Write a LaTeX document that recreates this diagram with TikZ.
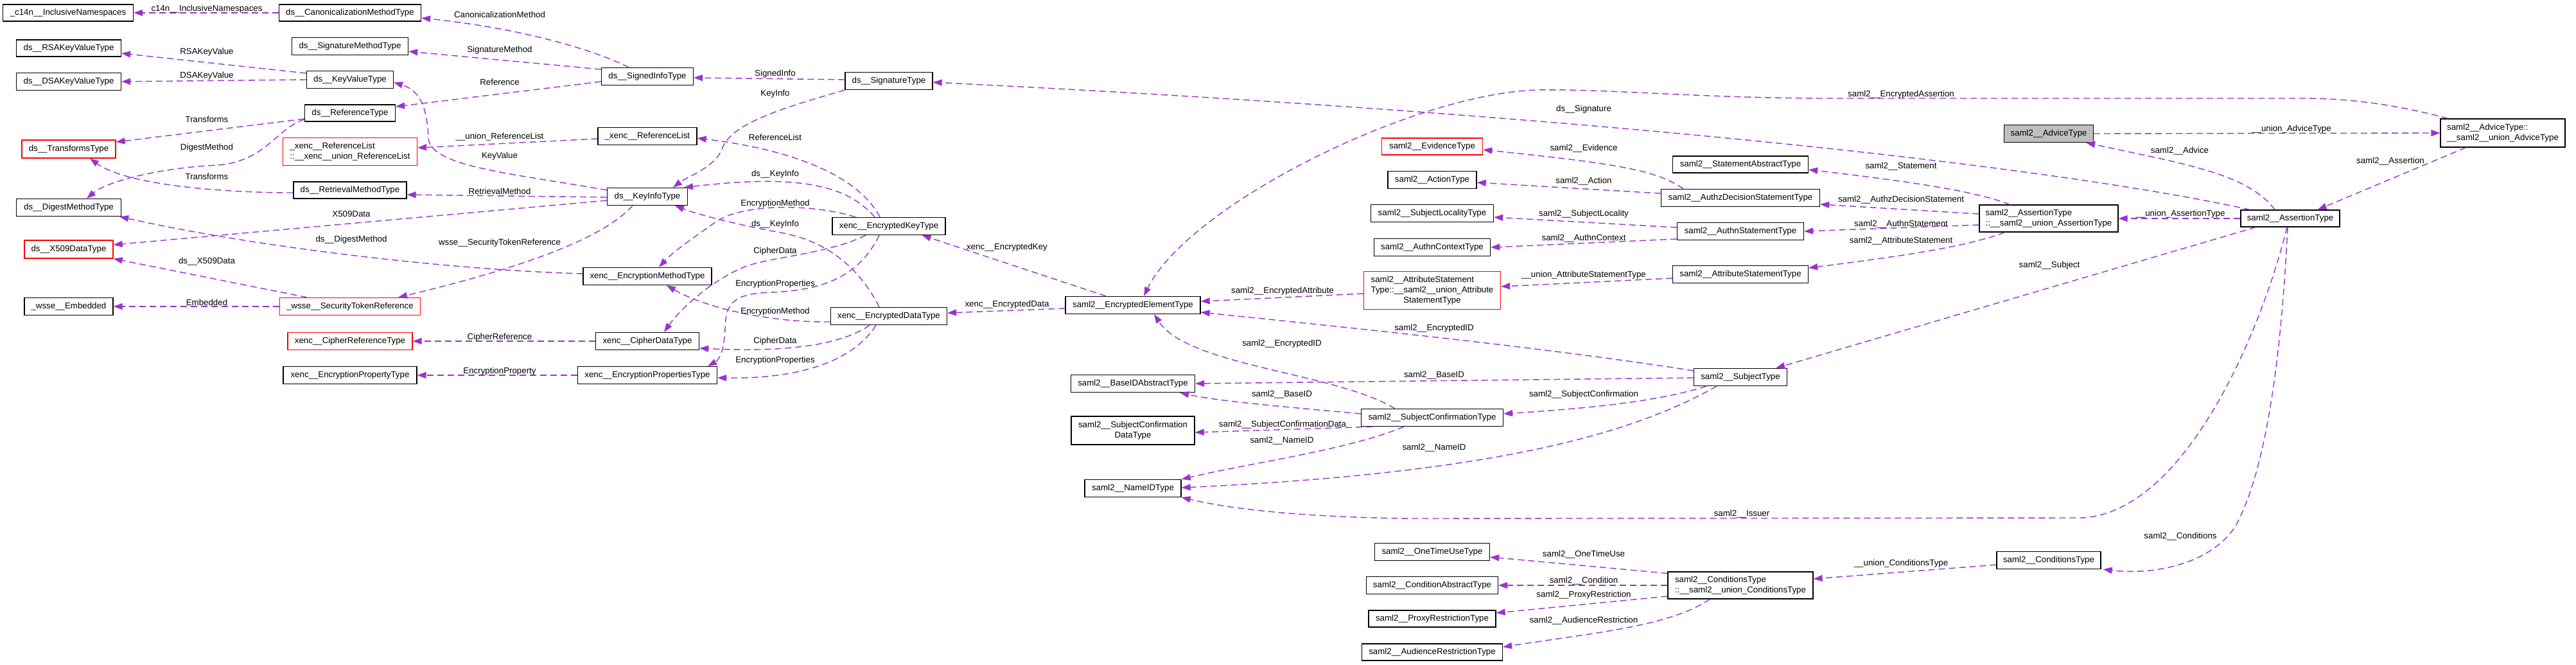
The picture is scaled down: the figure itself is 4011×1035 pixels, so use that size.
\documentclass[tikz,border=0pt]{standalone}
\usepackage{fontspec}
\setmainfont{Liberation Sans}
\usetikzlibrary{arrows.meta,calc}
\definecolor{purp}{HTML}{9A32CD}
\newcommand\bx[7]{\node[#1,minimum width=#5pt,minimum height=#6pt] (#2) at (#3,#4) {#7};}
\newcommand\lb[4]{\node[lbl] (#1) at (#2,#3) {#4};}
\begin{document}
\begin{tikzpicture}[x=1pt,y=-1pt,font=\fontsize{13.3}{16}\selectfont,
  box/.style={draw=black,line width=1.3pt,fill=white,rectangle,inner sep=0pt,align=center},
  redbox/.style={box,draw=red},
  greybox/.style={box,fill=gray!50},
  lbox/.style={box,align=left},
  edge/.style={draw=purp,line width=1.4pt,dash pattern=on 10pt off 6pt,-{Triangle[length=14pt,width=10pt]}},
  lbl/.style={inner sep=0pt,text=black}]
\fill[white] (0,0) rectangle (4011,1035);
\useasboundingbox (0,0) rectangle (4011,1035);
% nodes
\bx{box}{c14n}{106}{20}{203}{26}{\_c14n\_\_InclusiveNamespaces}
\bx{box}{canon}{545}{20}{221}{26}{ds\_\_CanonicalizationMethodType}
\bx{box}{rsa}{107}{75}{163}{26}{ds\_\_RSAKeyValueType}
\bx{box}{sigmeth}{545}{72}{181}{27}{ds\_\_SignatureMethodType}
\bx{box}{dsa}{107}{127}{163}{27}{ds\_\_DSAKeyValueType}
\bx{box}{keyval}{545}{124}{135}{27}{ds\_\_KeyValueType}
\bx{box}{reftype}{545}{176}{141}{26}{ds\_\_ReferenceType}
\bx{redbox}{transforms}{107}{232}{146}{28}{ds\_\_TransformsType}
\bx{redbox,align=left}{xrefunion}{545}{236}{209}{43}{\_xenc\_\_ReferenceList\\::\_\_xenc\_\_union\_ReferenceList}
\bx{box}{retrieval}{545}{296}{176}{26}{ds\_\_RetrievalMethodType}
\bx{box}{digest}{107}{323}{163}{27}{ds\_\_DigestMethodType}
\bx{redbox}{x509}{107}{388}{138}{28}{ds\_\_X509DataType}
\bx{box}{embedded}{107}{477}{138}{27}{\_wsse\_\_Embedded}
\bx{redbox}{sectok}{545}{477}{219}{27}{\_wsse\_\_SecurityTokenReference}
\bx{redbox}{cipherref}{545}{531}{194}{27}{xenc\_\_CipherReferenceType}
\bx{box}{encprop}{545}{584}{208}{27}{xenc\_\_EncryptionPropertyType}
\bx{box}{signedinfo}{1008}{119}{143}{27}{ds\_\_SignedInfoType}
\bx{box}{xreflist}{1008}{212}{154}{27}{\_xenc\_\_ReferenceList}
\bx{box}{keyinfo}{1008}{306}{125}{27}{ds\_\_KeyInfoType}
\bx{box}{encmeth}{1008}{430}{200}{27}{xenc\_\_EncryptionMethodType}
\bx{box}{cipherdata}{1008}{531}{161}{27}{xenc\_\_CipherDataType}
\bx{box}{encprops}{1008}{584}{217}{27}{xenc\_\_EncryptionPropertiesType}
\bx{box}{sigtype}{1384}{126}{136}{27}{ds\_\_SignatureType}
\bx{box}{enckey}{1384}{352}{176}{27}{xenc\_\_EncryptedKeyType}
\bx{box}{encdata}{1384}{492}{181}{27}{xenc\_\_EncryptedDataType}
\bx{box}{ee}{1764}{475}{210}{27}{saml2\_\_EncryptedElementType}
\bx{box}{baseid}{1764}{597}{193}{27}{saml2\_\_BaseIDAbstractType}
\bx{box}{scdata}{1764}{670}{192}{44}{saml2\_\_SubjectConfirmation\\DataType}
\bx{box}{nameid}{1764}{760}{150}{27}{saml2\_\_NameIDType}
\bx{redbox}{evidence}{2230}{228}{157}{26}{saml2\_\_EvidenceType}
\bx{box}{action}{2230}{280}{138}{27}{saml2\_\_ActionType}
\bx{box}{subjloc}{2230}{332}{191}{27}{saml2\_\_SubjectLocalityType}
\bx{box}{authnctx}{2230}{385}{181}{27}{saml2\_\_AuthnContextType}
\bx{redbox}{attrunion}{2230}{452}{213}{59}{\begin{tabular}{@{}l@{}}saml2\_\_AttributeStatement\\Type::\_\_saml2\_\_union\_Attribute\\\multicolumn{1}{@{}c@{}}{StatementType}\end{tabular}}
\bx{box}{subjconf}{2230}{650}{221}{27}{saml2\_\_SubjectConfirmationType}
\bx{box}{onetime}{2230}{859}{179}{27}{saml2\_\_OneTimeUseType}
\bx{box}{condabs}{2230}{911}{205}{27}{saml2\_\_ConditionAbstractType}
\bx{box}{proxy}{2230}{963}{198}{26}{saml2\_\_ProxyRestrictionType}
\bx{box}{audience}{2230}{1015}{219}{26}{saml2\_\_AudienceRestrictionType}
\bx{box}{stmtabs}{2710}{256}{211}{26}{saml2\_\_StatementAbstractType}
\bx{box}{authz}{2710}{308}{247}{27}{saml2\_\_AuthzDecisionStatementType}
\bx{box}{authn}{2710}{360}{197}{27}{saml2\_\_AuthnStatementType}
\bx{box}{attrstmt}{2710}{427}{211}{27}{saml2\_\_AttributeStatementType}
\bx{box}{subject}{2710}{587}{145}{27}{saml2\_\_SubjectType}
\bx{lbox}{condunion}{2710}{911}{226}{42}{saml2\_\_ConditionsType\\::\_\_saml2\_\_union\_ConditionsType}
\bx{greybox}{advice}{3190}{208}{139}{27}{saml2\_\_AdviceType}
\bx{lbox}{aunion}{3190}{340}{216}{42}{saml2\_\_AssertionType\\::\_\_saml2\_\_union\_AssertionType}
\bx{box}{conditions}{3190}{872}{162}{27}{saml2\_\_ConditionsType}
\bx{box}{assertion}{3566}{340}{154}{26}{saml2\_\_AssertionType}
\bx{lbox}{adviceunion}{3897}{207}{194}{44}{saml2\_\_AdviceType::\\\_\_saml2\_\_union\_AdviceType}
% edges
\draw[edge] (canon.west) -- (c14n.east);
\draw[edge] ($(signedinfo.north)+(-29,0)$) .. controls (930,80) and (820,45) .. ($(canon.east)+(0,8)$);
\draw[edge] ($(signedinfo.west)+(0,-11)$) -- ($(sigmeth.east)+(0,8)$);
\draw[edge] ($(signedinfo.west)+(0,8)$) -- ($(reftype.east)+(0,-10)$);
\draw[edge] ($(keyval.west)+(0,-10)$) -- ($(rsa.east)+(0,8)$);
\draw[edge] (keyval.west) -- (dsa.east);
\draw[edge] ($(reftype.west)+(0,9)$) -- ($(transforms.east)+(0,-11)$);
\draw[edge] ($(reftype.west)+(0,10)$) .. controls (430,200) and (415,250) .. (340,257) .. controls (260,260) and (170,280) .. ($(digest.north)+(28,0)$);
\draw[edge] ($(retrieval.west)+(0,4)$) .. controls (360,300) and (200,290) .. ($(transforms.south)+(33,0)$);
\draw[edge] ($(keyinfo.west)+(0,-10)$) .. controls (800,270) and (670,260) .. (667,215) .. controls (665,160) and (650,140) .. ($(keyval.east)+(0,4)$);
\draw[edge] ($(xreflist.west)+(0,4)$) -- ($(xrefunion.east)+(0,-6)$);
\draw[edge] ($(keyinfo.west)+(0,1)$) -- ($(retrieval.east)+(0,7)$);
\draw[edge] ($(keyinfo.west)+(0,6)$) -- ($(x509.east)+(0,-7)$);
\draw[edge] ($(keyinfo.south)+(-23,0)$) .. controls (940,370) and (820,415) .. ($(sectok.north)+(75,0)$);
\draw[edge] ($(encmeth.west)+(0,-4)$) .. controls (700,420) and (400,385) .. ($(digest.south east)+(-3,0)$);
\draw[edge] ($(sectok.north)+(-67,0)$) -- (x509.south east);
\draw[edge] (sectok.west) -- (embedded.east);
\draw[edge] (cipherdata.west) -- (cipherref.east);
\draw[edge] (encprops.west) -- (encprop.east);
\draw[edge] ($(sigtype.west)+(0,-2)$) -- ($(signedinfo.east)+(0,2)$);
\draw[edge] (sigtype.south west) .. controls (1230,165) and (1140,190) .. (1125,230) .. controls (1115,260) and (1070,275) .. ($(keyinfo.north)+(40,0)$);
\draw[edge] ($(enckey.north)+(-14,0)$) .. controls (1340,280) and (1250,235) .. ($(xreflist.east)+(0,3)$);
\draw[edge] ($(enckey.north)+(-22,0)$) .. controls (1320,290) and (1250,270) .. ($(keyinfo.north)+(57,0)$);
\draw[edge] ($(enckey.north)+(-52,0)$) .. controls (1270,318) and (1160,315) .. (1115,345) .. controls (1080,370) and (1050,390) .. ($(encmeth.north)+(18,0)$);
\draw[edge] ($(encdata.north)+(-15,0)$) .. controls (1340,420) and (1290,375) .. (1215,362) .. controls (1150,350) and (1090,335) .. ($(keyinfo.south)+(43,0)$);
\draw[edge] ($(enckey.south)+(-36,0)$) .. controls (1290,395) and (1200,400) .. (1160,415) .. controls (1110,435) and (1060,480) .. ($(cipherdata.north)+(26,0)$);
\draw[edge] ($(enckey.south)+(-15,0)$) .. controls (1340,425) and (1290,452) .. (1200,455) .. controls (1145,457) and (1130,470) .. (1129,510) .. controls (1128,545) and (1120,560) .. ($(encprops.north)+(94,0)$);
\draw[edge] ($(encdata.west)+(0,9)$) .. controls (1200,502) and (1100,480) .. ($(encmeth.south)+(30,0)$);
\draw[edge] ($(encdata.south)+(-30,0)$) .. controls (1320,530) and (1250,550) .. ($(cipherdata.east)+(0,11)$);
\draw[edge] ($(encdata.south)+(-20,0)$) .. controls (1330,560) and (1250,590) .. ($(encprops.east)+(0,4)$);
\draw[edge] ($(ee.north)+(-42,0)$) -- ($(enckey.south east)+(-37,0)$);
\draw[edge] ($(ee.west)+(0,5)$) -- ($(encdata.east)+(0,-5)$);
\draw[edge] ($(adviceunion.north west)+(12,0)$) .. controls (3720,160) and (3650,153) .. (3580,153) -- (2850,153) .. controls (2650,153) and (2500,138) .. (2395,140) .. controls (2200,145) and (1850,320) .. ($(ee.north)+(17,0)$);
\draw[edge] ($(assertion.north west)+(15,0)$) .. controls (3200,260) and (2500,180) .. ($(sigtype.east)+(0,2)$);
\draw[edge] ($(aunion.north west)+(48,0)$) .. controls (3070,295) and (2950,280) .. ($(stmtabs.east)+(0,8)$);
\draw[edge] ($(aunion.west)+(0,-7)$) -- ($(authz.east)+(0,10)$);
\draw[edge] ($(aunion.west)+(0,10)$) -- (authn.east);
\draw[edge] ($(aunion.south west)+(40,0)$) .. controls (3060,385) and (2950,400) .. ($(attrstmt.east)+(0,-10)$);
\draw[edge] (assertion.west) -- (aunion.east);
\draw[edge] ($(authz.north west)+(35,0)$) .. controls (2580,265) and (2520,255) .. ($(evidence.east)+(0,5)$);
\draw[edge] ($(authz.west)+(0,-7)$) -- ($(action.east)+(0,4)$);
\draw[edge] ($(authn.west)+(0,-6)$) -- ($(subjloc.east)+(0,6)$);
\draw[edge] ($(authn.west)+(0,12)$) -- (authnctx.east);
\draw[edge] ($(attrstmt.west)+(0,6)$) -- ($(attrunion.east)+(0,-6)$);
\draw[edge] ($(attrunion.west)+(0,5)$) -- ($(ee.east)+(0,-6)$);
\draw[edge] ($(subject.west)+(0,-10)$) .. controls (2400,540) and (2100,510) .. ($(ee.east)+(0,11)$);
\draw[edge] ($(subjconf.north)+(-58,0)$) .. controls (2080,580) and (1850,570) .. ($(ee.south)+(33,0)$);
\draw[edge] ($(subject.west)+(0,1)$) -- (baseid.east);
\draw[edge] ($(subjconf.west)+(0,-6)$) .. controls (2000,633) and (1900,625) .. ($(baseid.south east)+(-24,0)$);
\draw[edge] ($(subject.south west)+(20,0)$) .. controls (2580,625) and (2480,635) .. ($(subjconf.east)+(0,-6)$);
\draw[edge] ($(subjconf.south west)+(18,0)$) -- ($(scdata.east)+(0,3)$);
\draw[edge] ($(subjconf.south)+(-44,0)$) .. controls (2100,700) and (1950,720) .. (nameid.north east);
\draw[edge] ($(subject.south)+(-37,0)$) .. controls (2550,670) and (2350,735) .. ($(nameid.east)+(0,-1)$);
\draw[edge] ($(assertion.south)+(-5,0)$) .. controls (3520,520) and (3400,800) .. (3240,806) -- (2200,807) .. controls (2100,806) and (1950,800) .. (nameid.south east);
\draw[edge] ($(assertion.south)+(-4,0)$) .. controls (3550,600) and (3520,750) .. (3480,820) .. controls (3440,880) and (3350,895) .. ($(conditions.south east)+(3,0)$);
\draw[edge] ($(assertion.south west)+(24,0)$) -- ($(subject.north east)+(-18,0)$);
\draw[edge] ($(assertion.north)+(-24,0)$) .. controls (3500,270) and (3400,255) .. ($(advice.south east)+(-12,0)$);
\draw[edge] (advice.east) -- (adviceunion.west);
\draw[edge] ($(adviceunion.south west)+(40,0)$) -- ($(assertion.north east)+(-35,0)$);
\draw[edge] ($(conditions.west)+(0,7)$) -- ($(condunion.east)+(0,-10)$);
\draw[edge] ($(condunion.north west)+(0,3)$) -- ($(onetime.east)+(0,8)$);
\draw[edge] (condunion.west) -- (condabs.east);
\draw[edge] ($(condunion.west)+(0,17)$) -- ($(proxy.east)+(0,-9)$);
\draw[edge] ($(condunion.south west)+(66,0)$) .. controls (2600,975) and (2480,985) .. ($(audience.east)+(0,-8)$);
% labels
\lb{l1}{322}{14}{c14n\_\_InclusiveNamespaces}
\lb{l2}{778}{23}{CanonicalizationMethod}
\lb{l3}{778}{78}{SignatureMethod}
\lb{l4}{778}{128}{Reference}
\lb{l5}{322}{81}{RSAKeyValue}
\lb{l6}{322}{118}{DSAKeyValue}
\lb{l7}{322}{186}{Transforms}
\lb{l8}{322}{230}{DigestMethod}
\lb{l9}{322}{275}{Transforms}
\lb{l10}{778}{243}{KeyValue}
\lb{l11}{778}{213}{\_\_union\_ReferenceList}
\lb{l12}{778}{298}{RetrievalMethod}
\lb{l13}{547}{333}{X509Data}
\lb{l14}{778}{378}{wsse\_\_SecurityTokenReference}
\lb{l15}{547}{373}{ds\_\_DigestMethod}
\lb{l16}{322}{407}{ds\_\_X509Data}
\lb{l17}{322}{471}{Embedded}
\lb{l18}{778}{525}{CipherReference}
\lb{l19}{778}{578}{EncryptionProperty}
\lb{l20}{1207}{115}{SignedInfo}
\lb{l21}{1207}{146}{KeyInfo}
\lb{l22}{1207}{214}{ReferenceList}
\lb{l23}{1207}{271}{ds\_\_KeyInfo}
\lb{l24}{1207}{317}{EncryptionMethod}
\lb{l25}{1207}{349}{ds\_\_KeyInfo}
\lb{l26}{1207}{391}{CipherData}
\lb{l27}{1207}{442}{EncryptionProperties}
\lb{l28}{1207}{485}{EncryptionMethod}
\lb{l29}{1207}{531}{CipherData}
\lb{l30}{1207}{561}{EncryptionProperties}
\lb{l31}{1568}{385}{xenc\_\_EncryptedKey}
\lb{l32}{1568}{474}{xenc\_\_EncryptedData}
\lb{l33}{2960}{147}{saml2\_\_EncryptedAssertion}
\lb{l34}{2466}{170}{ds\_\_Signature}
\lb{l35}{2960}{259}{saml2\_\_Statement}
\lb{l36}{2960}{311}{saml2\_\_AuthzDecisionStatement}
\lb{l37}{2960}{349}{saml2\_\_AuthnStatement}
\lb{l38}{2960}{375}{saml2\_\_AttributeStatement}
\lb{l39}{3395}{333}{\_\_union\_AssertionType}
\lb{l40}{2466}{231}{saml2\_\_Evidence}
\lb{l41}{2466}{282}{saml2\_\_Action}
\lb{l42}{2466}{333}{saml2\_\_SubjectLocality}
\lb{l43}{2466}{371}{saml2\_\_AuthnContext}
\lb{l44}{2466}{428}{\_\_union\_AttributeStatementType}
\lb{l45}{1997}{453}{saml2\_\_EncryptedAttribute}
\lb{l46}{2233}{511}{saml2\_\_EncryptedID}
\lb{l47}{1996}{535}{saml2\_\_EncryptedID}
\lb{l48}{2233}{584}{saml2\_\_BaseID}
\lb{l49}{1996}{614}{saml2\_\_BaseID}
\lb{l50}{2466}{614}{saml2\_\_SubjectConfirmation}
\lb{l51}{1997}{661}{saml2\_\_SubjectConfirmationData}
\lb{l52}{1996}{686}{saml2\_\_NameID}
\lb{l53}{2233}{697}{saml2\_\_NameID}
\lb{l54}{2712}{800}{saml2\_\_Issuer}
\lb{l55}{3395}{835}{saml2\_\_Conditions}
\lb{l56}{3191}{413}{saml2\_\_Subject}
\lb{l57}{3394}{235}{saml2\_\_Advice}
\lb{l58}{3568}{201}{\_\_union\_AdviceType}
\lb{l59}{3722}{251}{saml2\_\_Assertion}
\lb{l60}{2960}{877}{\_\_union\_ConditionsType}
\lb{l61}{2466}{863}{saml2\_\_OneTimeUse}
\lb{l62}{2466}{904}{saml2\_\_Condition}
\lb{l63}{2466}{926}{saml2\_\_ProxyRestriction}
\lb{l64}{2466}{966}{saml2\_\_AudienceRestriction}
\end{tikzpicture}
\end{document}
